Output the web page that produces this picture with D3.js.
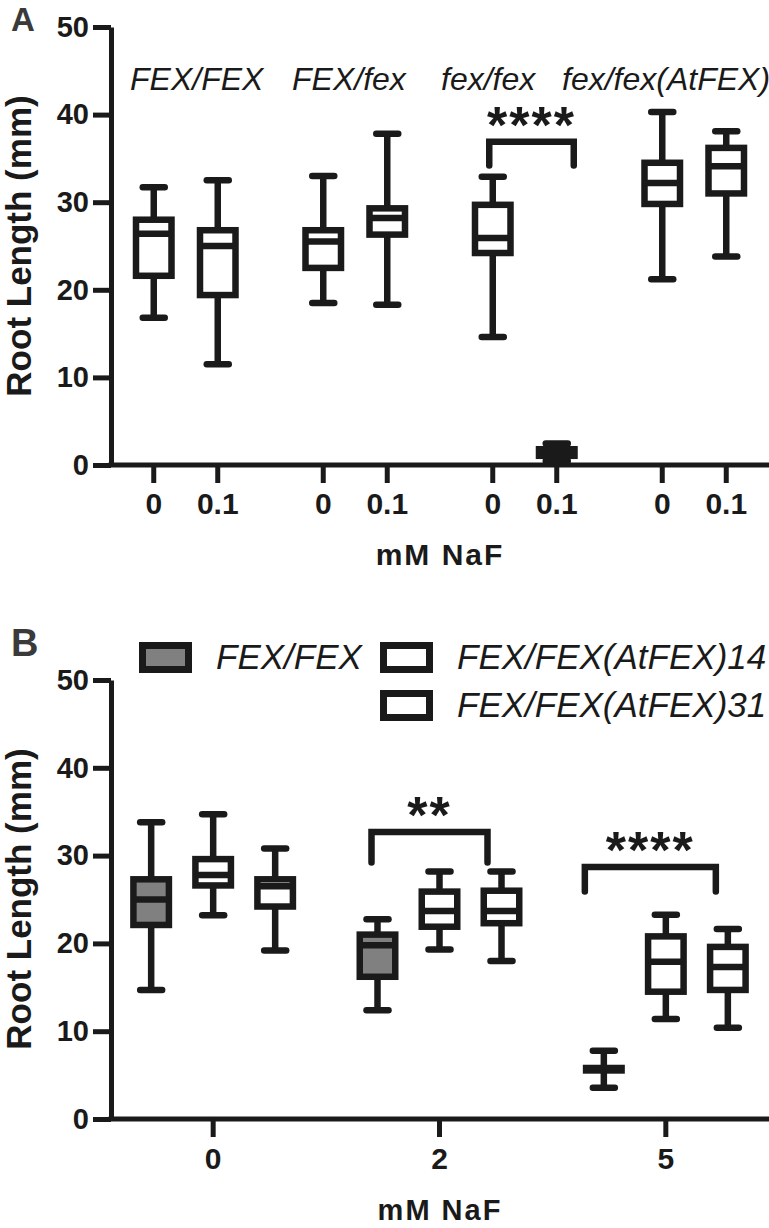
<!DOCTYPE html>
<html>
<head>
<meta charset="utf-8">
<script src="https://cdn.jsdelivr.net/npm/d3@7"></script>
<style>
body { margin: 0; background: #fff; }
text { font-family: "Liberation Sans", Arial, Helvetica, sans-serif; fill: #1a1a1a; }
</style>
</head>
<body>
<div class="chart"></div>
<script>
// ---- data, panel A (boxes ordered genotype by genotype, dose 0 then 0.1)
var genotypesA = ["FEX/FEX", "FEX/fex", "fex/fex", "fex/fex(AtFEX)"];
var dosesA = ["0", "0.1"];
var minA = [16.8, 11.5, 18.5, 18.3, 14.6, 0.45, 21.2, 23.8];
var q1A  = [21.6, 19.4, 22.5, 26.3, 24.2, 1.05, 29.8, 31.0];
var medA = [26.4, 25.0, 25.5, 28.2, 25.9, 1.4, 32.2, 34.1];
var q3A  = [28.0, 26.8, 26.8, 29.3, 29.7, 1.8, 34.5, 36.2];
var maxA = [31.7, 32.5, 33.0, 37.8, 32.9, 2.45, 40.3, 38.1];

// ---- data, panel B (boxes ordered dose by dose, line by line)
var dosesB = ["0", "2", "5"];
var linesB = ["FEX/FEX", "FEX/FEX(AtFEX)14", "FEX/FEX(AtFEX)31"];
var minB = [14.7, 23.2, 19.2, 12.4, 19.3, 18.0, 3.56, 11.4, 10.4];
var q1B  = [22.1, 26.6, 24.2, 16.2, 21.9, 22.3, 5.53, 14.5, 14.7];
var medB = [25.0, 27.8, 26.5, 19.8, 23.7, 23.7, 5.67, 17.9, 17.3];
var q3B  = [27.3, 29.6, 27.3, 21.0, 25.9, 26.0, 5.81, 20.8, 19.6];
var maxB = [33.8, 34.7, 30.8, 22.75, 28.2, 28.2, 7.77, 23.25, 21.65];

var yTicks = [0, 10, 20, 30, 40, 50];

// significance brackets: box index at each end, bracket top and leg end (mm)
var sigA = [{ from: 4, to: 5, top: 36.9, leg: 34.2, label: "****" }];
var sigB = [
  { from: 3, to: 5, top: 32.7, leg: 29.2, label: "**" },
  { from: 6, to: 8, top: 28.7, leg: 25.9, label: "****" }
];

// ---- layout / style
var W = 769, H = 1228;
var axisX = 111, axisRight = 769;
var ink = "#1a1a1a", grey = "#808080";
var sw = 6.5, boxW = 35.5, capW = 22;
var fillsB = [grey, "#fff", "#fff"];

var svg = d3.select(".chart").append("svg")
  .attr("width", W).attr("height", H);

function drawBox(g, cx, y, s, fill) {
  g.append("line").attr("x1", cx).attr("x2", cx)
    .attr("y1", y(s.min)).attr("y2", y(s.max))
    .attr("stroke", ink).attr("stroke-width", sw);
  [s.min, s.max].forEach(function(v) {
    g.append("line").attr("x1", cx - capW / 2).attr("x2", cx + capW / 2)
      .attr("y1", y(v)).attr("y2", y(v))
      .attr("stroke", ink).attr("stroke-width", sw).attr("stroke-linecap", "round");
  });
  g.append("rect").attr("x", cx - boxW / 2).attr("width", boxW)
    .attr("y", y(s.q3)).attr("height", y(s.q1) - y(s.q3))
    .attr("fill", fill).attr("stroke", ink).attr("stroke-width", sw);
  g.append("line").attr("x1", cx - boxW / 2).attr("x2", cx + boxW / 2)
    .attr("y1", y(s.med)).attr("y2", y(s.med))
    .attr("stroke", ink).attr("stroke-width", sw);
}

function drawYAxis(g, y, midY) {
  var ax = g.append("g").attr("transform", "translate(" + axisX + ",0)")
    .call(d3.axisLeft(y).tickValues(yTicks).tickSize(18).tickSizeOuter(0).tickPadding(4));
  ax.selectAll("path, line").attr("stroke", ink).attr("stroke-width", 5);
  ax.selectAll("text").attr("font-size", 29).attr("font-weight", "bold")
    .attr("fill", ink).style("font-family", "Liberation Sans, Arial, sans-serif");
  g.append("text").attr("transform", "translate(31," + midY + ") rotate(-90)")
    .attr("text-anchor", "middle").attr("font-size", 35).attr("font-weight", "bold")
    .text("Root Length (mm)");
}

function drawXAxis(g, y0, ticks, pos, pad) {
  g.append("line").attr("x1", axisX - 2.5).attr("x2", axisRight)
    .attr("y1", y0).attr("y2", y0).attr("stroke", ink).attr("stroke-width", 5);
  var t = g.selectAll(".xt").data(ticks).enter().append("g")
    .attr("transform", function(d, i) { return "translate(" + pos(d, i) + "," + y0 + ")"; });
  t.append("line").attr("y1", 0).attr("y2", 18).attr("stroke", ink).attr("stroke-width", 5);
  t.append("text").attr("y", 18 + pad).attr("dy", "0.71em").attr("text-anchor", "middle")
    .attr("font-size", 30).attr("font-weight", "bold").text(function(d) { return d.label; });
}

function drawSig(g, y, s, xs) {
  var x1 = xs[0], x2 = xs[1];
  g.append("path")
    .attr("d", "M" + x1 + "," + y(s.leg) + "V" + y(s.top) + "H" + x2 + "V" + y(s.leg))
    .attr("fill", "none").attr("stroke", ink).attr("stroke-width", sw)
    .attr("stroke-linecap", "round").attr("stroke-linejoin", "miter");
  g.append("text").attr("x", (x1 + x2) / 2).attr("y", y(s.top) + 1)
    .attr("text-anchor", "middle").attr("font-size", 52).attr("font-weight", "bold")
    .attr("letter-spacing", 2).text(s.label);
}

// ================= Panel A =================
var gA = svg.append("g");
var yA = d3.scaleLinear().domain([0, 50]).range([465, 27]);
var xA = d3.scaleBand().domain(genotypesA).range([101, 779]);
var xInA = d3.scalePoint().domain(dosesA).range([-32, 32]);

var boxesA = [];
genotypesA.forEach(function(gt) {
  dosesA.forEach(function(ds) {
    var i = boxesA.length;
    boxesA.push({ g: gt, d: ds, label: ds,
      cx: xA(gt) + xA.bandwidth() / 2 + xInA(ds),
      min: minA[i], q1: q1A[i], med: medA[i], q3: q3A[i], max: maxA[i] });
  });
});

drawYAxis(gA, yA, 246);
boxesA.forEach(function(b) { drawBox(gA, b.cx, yA, b, "#fff"); });
drawXAxis(gA, 465, boxesA, function(d) { return d.cx; }, 10);

var labelXA = [130, 292, 441, 562];
gA.selectAll(".gl").data(genotypesA).enter().append("text")
  .attr("x", function(d, i) { return labelXA[i]; }).attr("y", 90)
  .attr("font-size", 32).attr("font-style", "italic").text(function(d) { return d; });

sigA.forEach(function(s) {
  drawSig(gA, yA, s, [boxesA[s.from].cx - 3.5, boxesA[s.to].cx + 17]);
});

gA.append("text").attr("x", 440).attr("y", 565).attr("text-anchor", "middle")
  .attr("font-size", 30).attr("font-weight", "bold").attr("letter-spacing", 2).text("mM NaF");
svg.append("text").attr("x", 11).attr("y", 31).attr("font-size", 33).attr("font-weight", "bold")
  .style("fill", "#3a3a3a").text("A");

// ================= Panel B =================
var gB = svg.append("g");
var yB = d3.scaleLinear().domain([0, 50]).range([1119, 680]);
var xB = d3.scaleBand().domain(dosesB).range([100, 779]);
var xInB = d3.scalePoint().domain(linesB).range([-62, 62]);

var boxesB = [];
dosesB.forEach(function(ds) {
  linesB.forEach(function(ln, j) {
    var i = boxesB.length;
    boxesB.push({ d: ds, l: ln, fill: fillsB[j],
      cx: xB(ds) + xB.bandwidth() / 2 + xInB(ln),
      min: minB[i], q1: q1B[i], med: medB[i], q3: q3B[i], max: maxB[i] });
  });
});

drawYAxis(gB, yB, 899);
boxesB.forEach(function(b) { drawBox(gB, b.cx, yB, b, b.fill); });
drawXAxis(gB, 1119, dosesB.map(function(d) { return { label: d }; }),
  function(d) { return xB(d.label) + xB.bandwidth() / 2; }, 11);

var sigOffB = [[-6, -14], [-19, -12]];
sigB.forEach(function(s, i) {
  drawSig(gB, yB, s, [boxesB[s.from].cx + sigOffB[i][0], boxesB[s.to].cx + sigOffB[i][1]]);
});

gB.append("text").attr("x", 440).attr("y", 1220).attr("text-anchor", "middle")
  .attr("font-size", 29).attr("font-weight", "bold").attr("letter-spacing", 2).text("mM NaF");
svg.append("text").attr("x", 11).attr("y", 656).attr("font-size", 38).attr("font-weight", "bold")
  .style("fill", "#3a3a3a").text("B");

// legend
var legendPos = [[139, 642], [380, 642], [380, 690]];
var leg = gB.selectAll(".lg").data(linesB).enter().append("g")
  .attr("transform", function(d, i) { return "translate(" + legendPos[i][0] + "," + legendPos[i][1] + ")"; });
leg.append("rect").attr("x", 3.5).attr("y", 3.5).attr("width", 46).attr("height", 24)
  .attr("fill", function(d, i) { return fillsB[i]; })
  .attr("stroke", ink).attr("stroke-width", 7);
leg.append("text").attr("x", 77).attr("y", 27).attr("font-size", 35).attr("font-style", "italic")
  .text(function(d) { return d; });
</script>
</body>
</html>
